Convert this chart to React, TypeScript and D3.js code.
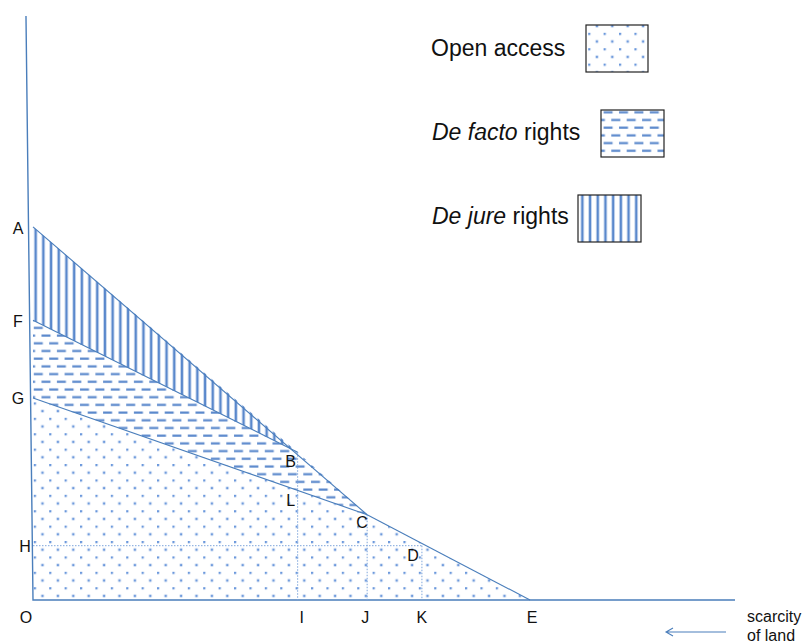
import { useEffect, useRef } from 'react'
import * as d3 from 'd3'

// key points of the diagram, in chart units (x: 0..100 along the axis, y: 0..100 up the axis)
const pointNames = ['A', 'F', 'G', 'B', 'L', 'C', 'D', 'E', 'H', 'O', 'I', 'J', 'K'];
const pointX = [0, 0, 0, 37.7, 37.7, 47.6, 55.4, 70.8, 0, 0, 37.7, 47.6, 55.4];
const pointY = [63.9, 47.9, 34.6, 25.3, 18.7, 14.6, 9.3, 0, 9.3, 0, 0, 0, 0];

// regions (polygons by point name) and legend entries
const regionNames = ['Open access', 'De facto rights', 'De jure rights'];
const regionPoints = [['G', 'C', 'E', 'O'], ['F', 'B', 'C', 'G'], ['A', 'B', 'F']];
const regionPattern = ['dots', 'dashes', 'vlines'];

// solid lines and dotted guides
const solidLines = [['A', 'C'], ['C', 'E'], ['F', 'B'], ['G', 'C']];
const guideLines = [['B', 'I'], ['C', 'J'], ['D', 'K'], ['H', 'D']];

const W = 803, H = 643;
const blue = '#4a7ebb';
const font = '"Liberation Sans", Arial, sans-serif';

// label offsets from their points (px)
const labelOffset: Record<string, [number, number]> = {
  A: [-15, 7], F: [-15, 7], G: [-15, 6], H: [-8, 6], O: [-7, 23],
  I: [4, 23], J: [-2, 23], K: [0, 23], E: [2, 23],
  B: [-7, 15], L: [-7, 15], C: [-5, 13], D: [-9, 15],
};

// legend layout: text baseline, box rect
const legendLayout = [
  { tx: 431, ty: 56, bx: 586, by: 25, bw: 62, bh: 47 },
  { tx: 432, ty: 140, bx: 601, by: 110, bw: 63, bh: 47 },
  { tx: 432, ty: 224, bx: 578, by: 195, bw: 63, bh: 47 },
];

const App = () => {
  const ref = useRef<SVGSVGElement>(null);

  useEffect(() => {
    if (!ref.current) return;
    const svg = d3.select(ref.current);
    svg.selectAll('*').remove();

    const x = d3.scaleLinear().domain([0, 100]).range([33, 735]);
    const y = d3.scaleLinear().domain([0, 100]).range([600, 16]);
    const pt = (n: string): [number, number] => {
      const i = pointNames.indexOf(n);
      return [x(pointX[i]), y(pointY[i])];
    };

    // patterns
    const defs = svg.append('defs');
    const step = 7.7;
    const dots = defs.append('pattern').attr('id', 'dots')
      .attr('patternUnits', 'userSpaceOnUse').attr('width', step * 2).attr('height', step * 2)
      .attr('x', 3).attr('y', 2);
    [[1, 1], [1 + step, 1 + step]].forEach(([cx, cy]) => {
      dots.append('circle').attr('cx', cx).attr('cy', cy).attr('r', 1.9).attr('fill', '#d3e0f3');
      dots.append('circle').attr('cx', cx).attr('cy', cy).attr('r', 1.1).attr('fill', '#5f90da');
    });

    const dashes = defs.append('pattern').attr('id', 'dashes')
      .attr('patternUnits', 'userSpaceOnUse').attr('width', step * 2).attr('height', step * 2)
      .attr('x', 2).attr('y', 1);
    const dashSegs = [[1, 3.5, 10, 3.5], [8.7, 3.5 + step, 17.7, 3.5 + step], [-6.7, 3.5 + step, 2.3, 3.5 + step]];
    dashSegs.forEach(([x1, y1, x2, y2]) => {
      dashes.append('line').attr('x1', x1).attr('y1', y1).attr('x2', x2).attr('y2', y2)
        .attr('stroke', '#5a88cc').attr('stroke-width', 2.2);
    });

    const vlines = defs.append('pattern').attr('id', 'vlines')
      .attr('patternUnits', 'userSpaceOnUse').attr('width', step).attr('height', step)
      .attr('x', 1).attr('y', 0);
    vlines.append('line').attr('x1', step / 2).attr('x2', step / 2).attr('y1', 0).attr('y2', step)
      .attr('stroke', '#5a88cc').attr('stroke-width', 2.6);

    // filled regions
    const line = d3.line();
    svg.append('g').selectAll('path').data(regionPoints).join('path')
      .attr('d', d => line(d.map(pt)) + 'Z')
      .attr('fill', (_, i) => `url(#${regionPattern[i]})`)
      .attr('stroke', 'none');

    // axes
    svg.append('path').attr('d', line([[x(-1), y(100)], [x(0), y(0)], [x(100), y(0)]]))
      .attr('fill', 'none').attr('stroke', blue).attr('stroke-width', 1.4);

    // guides
    svg.append('g').selectAll('path').data(guideLines).join('path')
      .attr('d', d => line(d.map(pt)))
      .attr('fill', 'none').attr('stroke', '#7ea6dc').attr('stroke-width', 1)
      .attr('stroke-dasharray', '1.5,1.5');

    // boundary lines
    svg.append('g').selectAll('path').data(solidLines).join('path')
      .attr('d', d => line(d.map(pt)))
      .attr('fill', 'none').attr('stroke', blue).attr('stroke-width', 1.1);

    // point labels
    svg.append('g').selectAll('text').data(pointNames).join('text')
      .attr('x', n => pt(n)[0] + labelOffset[n][0])
      .attr('y', n => pt(n)[1] + labelOffset[n][1])
      .attr('text-anchor', 'middle')
      .attr('font-family', font).attr('font-size', 16).attr('fill', '#111')
      .text(n => n);

    // arrow + caption
    const ay = 632;
    svg.append('path').attr('d', `M726,${ay}H666M673,${ay - 4}L666,${ay}L673,${ay + 4}`)
      .attr('fill', 'none').attr('stroke', blue).attr('stroke-width', 1.1);
    const cap = svg.append('text').attr('font-family', font).attr('font-size', 16).attr('fill', '#111');
    cap.append('tspan').attr('x', 747).attr('y', 622).text('scarcity');
    cap.append('tspan').attr('x', 747).attr('y', 641).text('of land');

    // legend
    const leg = svg.append('g');
    regionNames.forEach((name, i) => {
      const l = legendLayout[i];
      const t = leg.append('text').attr('x', l.tx).attr('y', l.ty)
        .attr('font-family', font).attr('font-size', 23).attr('fill', '#111');
      if (i === 0) {
        t.text(name);
      } else {
        const parts = name.split(' ');
        t.append('tspan').attr('font-style', 'italic').text(parts.slice(0, parts.length - 1).join(' '));
        t.append('tspan').text(' ' + parts[parts.length - 1]);
      }
      leg.append('rect').attr('x', l.bx).attr('y', l.by).attr('width', l.bw).attr('height', l.bh)
        .attr('fill', `url(#${regionPattern[i]})`).attr('stroke', '#222').attr('stroke-width', 1.2);
    });
  }, []);

  return (
    <svg ref={ref} width={W} height={H}
      style={{ position: 'fixed', left: 0, top: 0, background: '#fff' }} />
  );
};

export default App;
